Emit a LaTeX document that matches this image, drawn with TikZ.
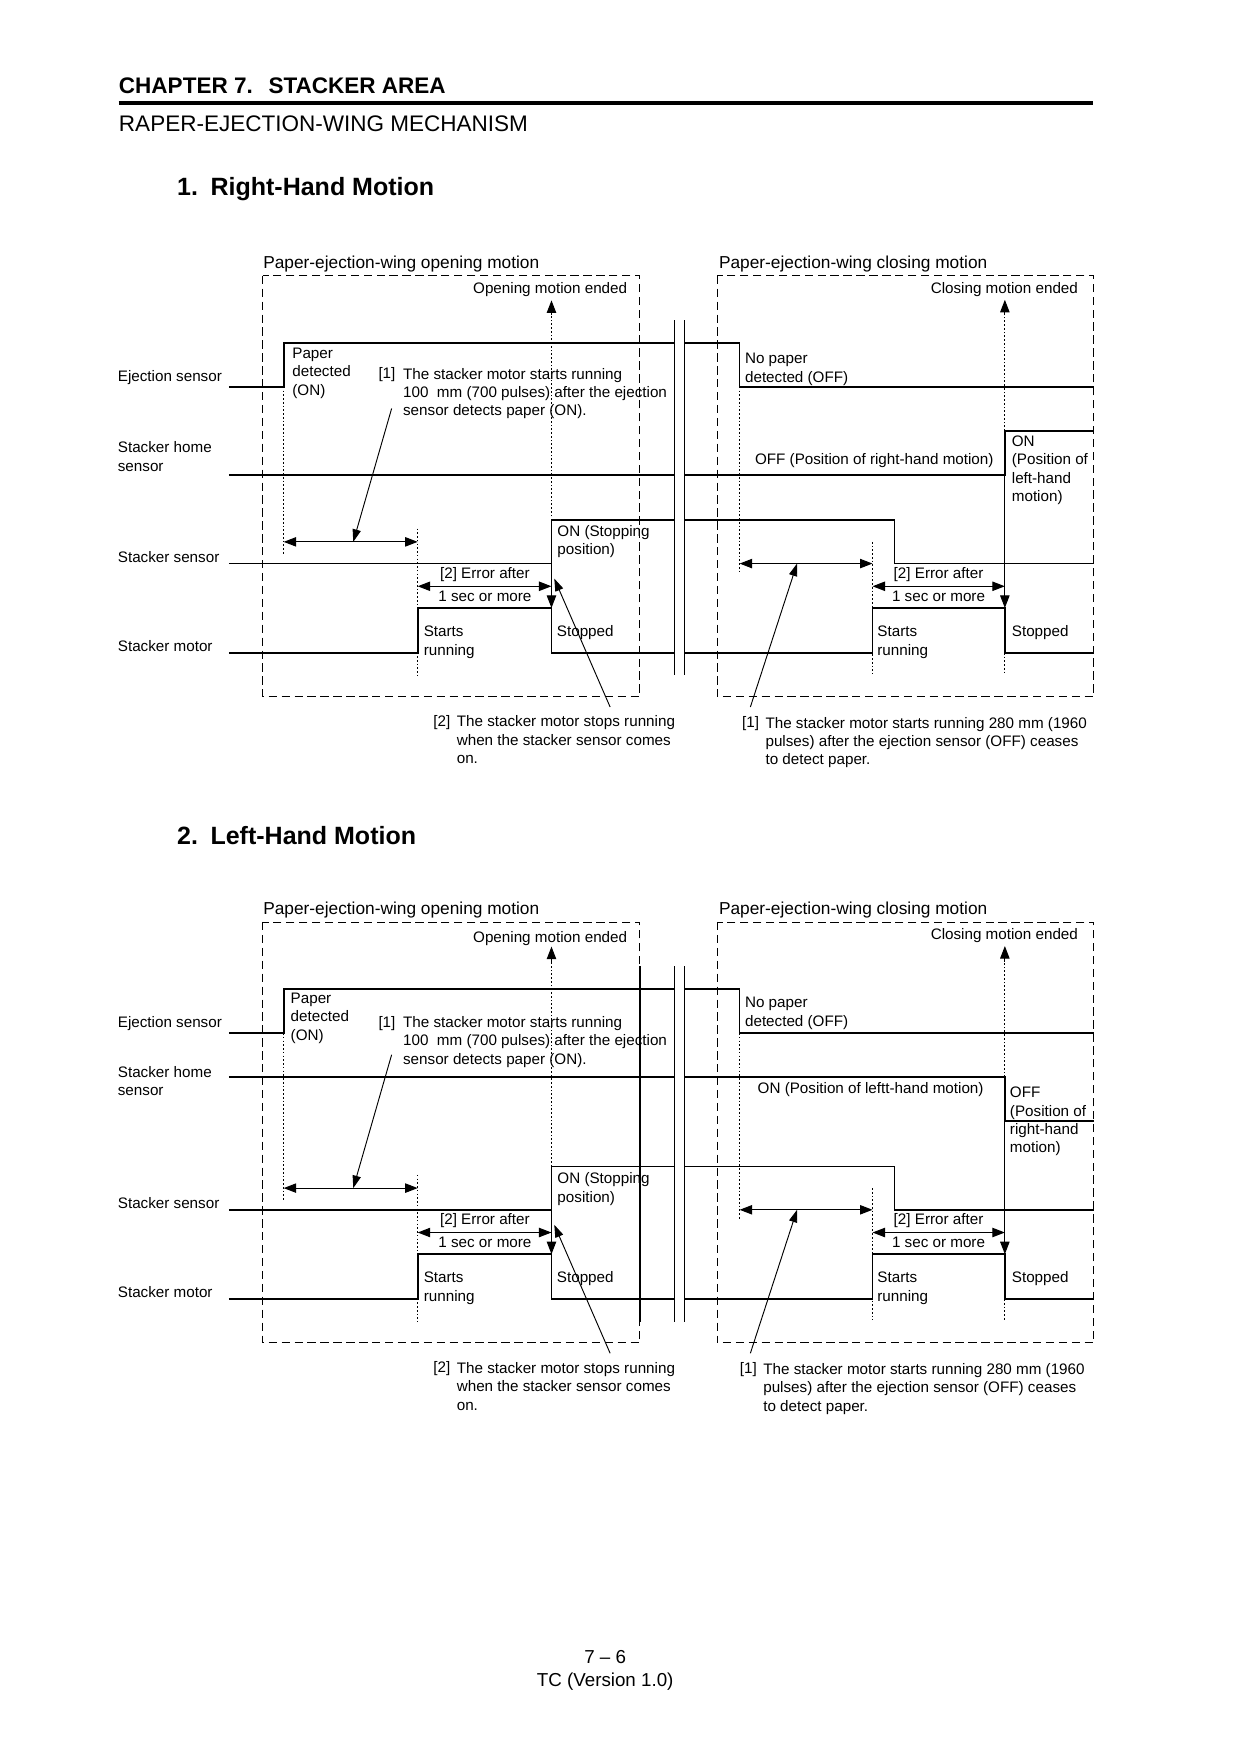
\documentclass[tikz,border=0pt]{standalone}
\usepackage{fontspec}
\setmainfont{Liberation Sans}
\usetikzlibrary{arrows.meta}
\tikzset{
  wave/.style={line width=0.8pt, line join=miter},
  frame/.style={line width=0.45pt, dash pattern=on 4pt off 2.2pt},
  guide/.style={line width=0.45pt, dash pattern=on 0.8pt off 1pt},
  brk/.style={line width=0.8pt},
  dimarrow/.style={line width=0.5pt, {Triangle[length=6pt,width=4.5pt]}-{Triangle[length=6pt,width=4.5pt]}},
  tiparrow/.style={line width=0.5pt, -{Triangle[length=6pt,width=4.5pt]}},
  leadarrow/.style={line width=0.45pt, -{Triangle[length=6pt,width=4pt]}},
  txt/.style={font=\fontsize{7.3}{8.86}\selectfont, inner sep=0pt, align=left},
  ttl/.style={font=\fontsize{8.3}{10}\selectfont, inner sep=0pt, anchor=base west},
}
\newcommand\timingbase{%
  % frames
  \draw[frame] (235,246.5) rectangle (572,622.5);
  \draw[frame] (641,246.5) rectangle (977.9,622.5);
  % break lines
  \draw[brk] (603,286.2) -- (603,603.7);
  \draw[brk] (612,286.2) -- (612,603.7);
  % ejection sensor
  \draw[wave] (204.5,345.8) -- (253.6,345.8) -- (253.6,306.5) -- (603,306.5);
  \draw[wave] (612,306.5) -- (661.2,306.5) -- (661.2,345.8) -- (977.9,345.8);
  % stacker sensor
  \draw[wave] (204.5,503.8) -- (493,503.8) -- (493,465) -- (603,465);
  \draw[wave] (612,465) -- (799.6,465) -- (799.6,503.8) -- (977.9,503.8);
  % stacker motor
  \draw[wave] (204.5,583.7) -- (373.4,583.7) -- (373.4,543.5) -- (493,543.5) -- (493,583.7) -- (603,583.7);
  \draw[wave] (612,583.7) -- (780,583.7) -- (780,543.5) -- (898.3,543.5) -- (898.3,583.7) -- (977.9,583.7);
  % guide lines
  \draw[guide] (253.6,345.8) -- (253.6,496.4);
  \draw[guide] (373.4,472.5) -- (373.4,603.7);
  \draw[guide] (493,465) -- (493,280);
  \draw[tiparrow] (493,282) -- (493,268.5);
  \draw[tiparrow] (493,503.8) -- (493,543.5);
  \draw[guide] (661.2,345.8) -- (661.2,511.9);
  \draw[guide] (780,484.4) -- (780,602);
  \draw[guide] (898.3,385.2) -- (898.3,280);
  \draw[tiparrow] (898.3,282) -- (898.3,268);
  \draw[tiparrow] (898.3,424.5) -- (898.3,543.5);
  \draw[guide] (898.3,583.7) -- (898.3,602);
  % interval arrows
  \draw[dimarrow] (253.6,484.4) -- (373.4,484.4);
  \draw[dimarrow] (373.4,524.1) -- (493,524.1);
  \draw[dimarrow] (661.2,503.8) -- (780,503.8);
  \draw[dimarrow] (780,524.1) -- (898.3,524.1);
  % leader arrows
  \draw[leadarrow] (350.1,365.2) -- (315.8,484.4);
  \draw[leadarrow] (545.4,632) -- (495.5,517.2);
  \draw[leadarrow] (670.8,632) -- (712.5,503.8);
  % row labels
  \node[txt,anchor=base west] (lej) at (105,341) {Ejection sensor};
  \node[txt,anchor=base west] (lsen) at (105,503) {Stacker sensor};
  \node[txt,anchor=base west] (lmot) at (105,582) {Stacker motor};
  % panel titles
  \node[ttl] (topen) at (235,240) {Paper-ejection-wing opening motion};
  \node[ttl] (tclose) at (642.4,240) {Paper-ejection-wing closing motion};
  \node[txt,anchor=base east] (cend) at (964,262) {Closing motion ended};
  % common texts
  \node[txt,anchor=base] (err1a) at (433.5,516.7) {[2] Error after};
  \node[txt,anchor=base] (err1b) at (433.5,537.3) {1 sec or more};
  \node[txt,anchor=north west] (start1) at (378.5,559.2) {Starts\\running};
  \node[txt,anchor=base west] (stop1) at (497.5,569) {Stopped};
  \node[txt,anchor=base west] (n2a) at (387,649.5) {[2]};
  \node[txt,anchor=north west] (n2b) at (408,639.6) {The stacker motor stops running\\when the stacker sensor comes\\on.};
  \node[txt,anchor=base] (err2a) at (839,516.7) {[2] Error after};
  \node[txt,anchor=base] (err2b) at (839,537.3) {1 sec or more};
  \node[txt,anchor=north west] (start2) at (784,559.2) {Starts\\running};
  \node[txt,anchor=base west] (stop2) at (904.2,569) {Stopped};
}
\begin{document}
\begin{tikzpicture}[x=0.5367pt,y=-0.5367pt]
\fill[white] (0,0) rectangle (1109,1568);
\useasboundingbox (0,0) rectangle (1109,1568);

% header
\node[inner sep=0pt,anchor=base west,font=\fontsize{10.8}{13}\selectfont\bfseries] (chap) at (106,84) {CHAPTER 7.\hspace{0.7em}STACKER AREA};
\draw[line width=2pt] (106,92) -- (977,92);
\node[inner sep=0pt,anchor=base west,font=\fontsize{10.8}{13}\selectfont] (mech) at (106,117.5) {RAPER-EJECTION-WING MECHANISM};
\node[inner sep=0pt,anchor=base west,font=\fontsize{12}{14}\selectfont\bfseries] (sec1) at (158,175) {1.\hspace{0.5em}Right-Hand Motion};
\node[inner sep=0pt,anchor=base west,font=\fontsize{12}{14}\selectfont\bfseries] (sec2) at (158,755) {2.\hspace{0.5em}Left-Hand Motion};

% diagram 1
\begin{scope}[name prefix=d1-]
  \timingbase
  \node[txt,anchor=north west] (lhome) at (105,394.6) {Stacker home\\sensor};
  \draw[wave] (204.5,424.5) -- (603,424.5);
  \draw[wave] (612,424.5) -- (898.3,424.5) -- (898.3,385.2) -- (977.9,385.2);
  \node[txt,anchor=base east] (oend) at (561,262) {Opening motion ended};
  \node[txt,anchor=north west] (pdet) at (261,310.6) {Paper\\detected\\(ON)};
  \node[txt,anchor=base west] (n1a) at (338,338.5) {[1]};
  \node[txt,anchor=north west] (n1b) at (360,328.6) {The stacker motor starts running\\100~~mm (700 pulses) after the ejection\\sensor detects paper (ON).};
  \node[txt,anchor=north west] (onstop) at (498,469.1) {ON (Stopping\\position)};
  \node[txt,anchor=north west] (nopap) at (665.7,315.4) {No paper\\detected (OFF)};
  \node[txt,anchor=base west] (offpos) at (674.6,415.5) {OFF (Position of right-hand motion)};
  \node[txt,anchor=north west] (onpos) at (904.2,389.1) {ON\\(Position of\\left-hand\\motion)};
  \node[txt,anchor=base west] (n3a) at (663,650.5) {[1]};
  \node[txt,anchor=north west] (n3b) at (684,640.6) {The stacker motor starts running 280 mm (1960\\pulses) after the ejection sensor (OFF) ceases\\to detect paper.};
\end{scope}

% diagram 2
\begin{scope}[name prefix=d2-, shift={(0,577.7)}]
  \timingbase
  \node[txt,anchor=north west] (lhome) at (105,374.9) {Stacker home\\sensor};
  \draw[brk] (572,286.2) -- (572,603.7);
  \draw[wave] (204.5,385.2) -- (603,385.2);
  \draw[wave] (612,385.2) -- (898.3,385.2) -- (898.3,424.5) -- (977.9,424.5);
  \node[txt,anchor=base east] (oend) at (561,264.5) {Opening motion ended};
  \node[txt,anchor=north west] (pdet) at (259.5,309.6) {Paper\\detected\\(ON)};
  \node[txt,anchor=base west] (n1a) at (338,340.5) {[1]};
  \node[txt,anchor=north west] (n1b) at (360,330.6) {The stacker motor starts running\\100~~mm (700 pulses) after the ejection\\sensor detects paper (ON).};
  \node[txt,anchor=north west] (onstop) at (498,470.1) {ON (Stopping\\position)};
  \node[txt,anchor=north west] (nopap) at (665.7,313.6) {No paper\\detected (OFF)};
  \node[txt,anchor=base west] (onpos) at (677,399.5) {ON (Position of leftt-hand motion)};
  \node[txt,anchor=north west] (offpos) at (902.5,393.6) {OFF\\(Position of\\right-hand\\motion)};
  \node[txt,anchor=base west] (n3a) at (661,650.5) {[1]};
  \node[txt,anchor=north west] (n3b) at (682,640.6) {The stacker motor starts running 280 mm (1960\\pulses) after the ejection sensor (OFF) ceases\\to detect paper.};
\end{scope}

% footer
\node[inner sep=0pt,anchor=base,font=\fontsize{9}{11}\selectfont] (pg) at (541,1487.5) {7 – 6};
\node[inner sep=0pt,anchor=base,font=\fontsize{9}{11}\selectfont] (ver) at (541,1507.5) {TC (Version 1.0)};
\end{tikzpicture}
\end{document}
